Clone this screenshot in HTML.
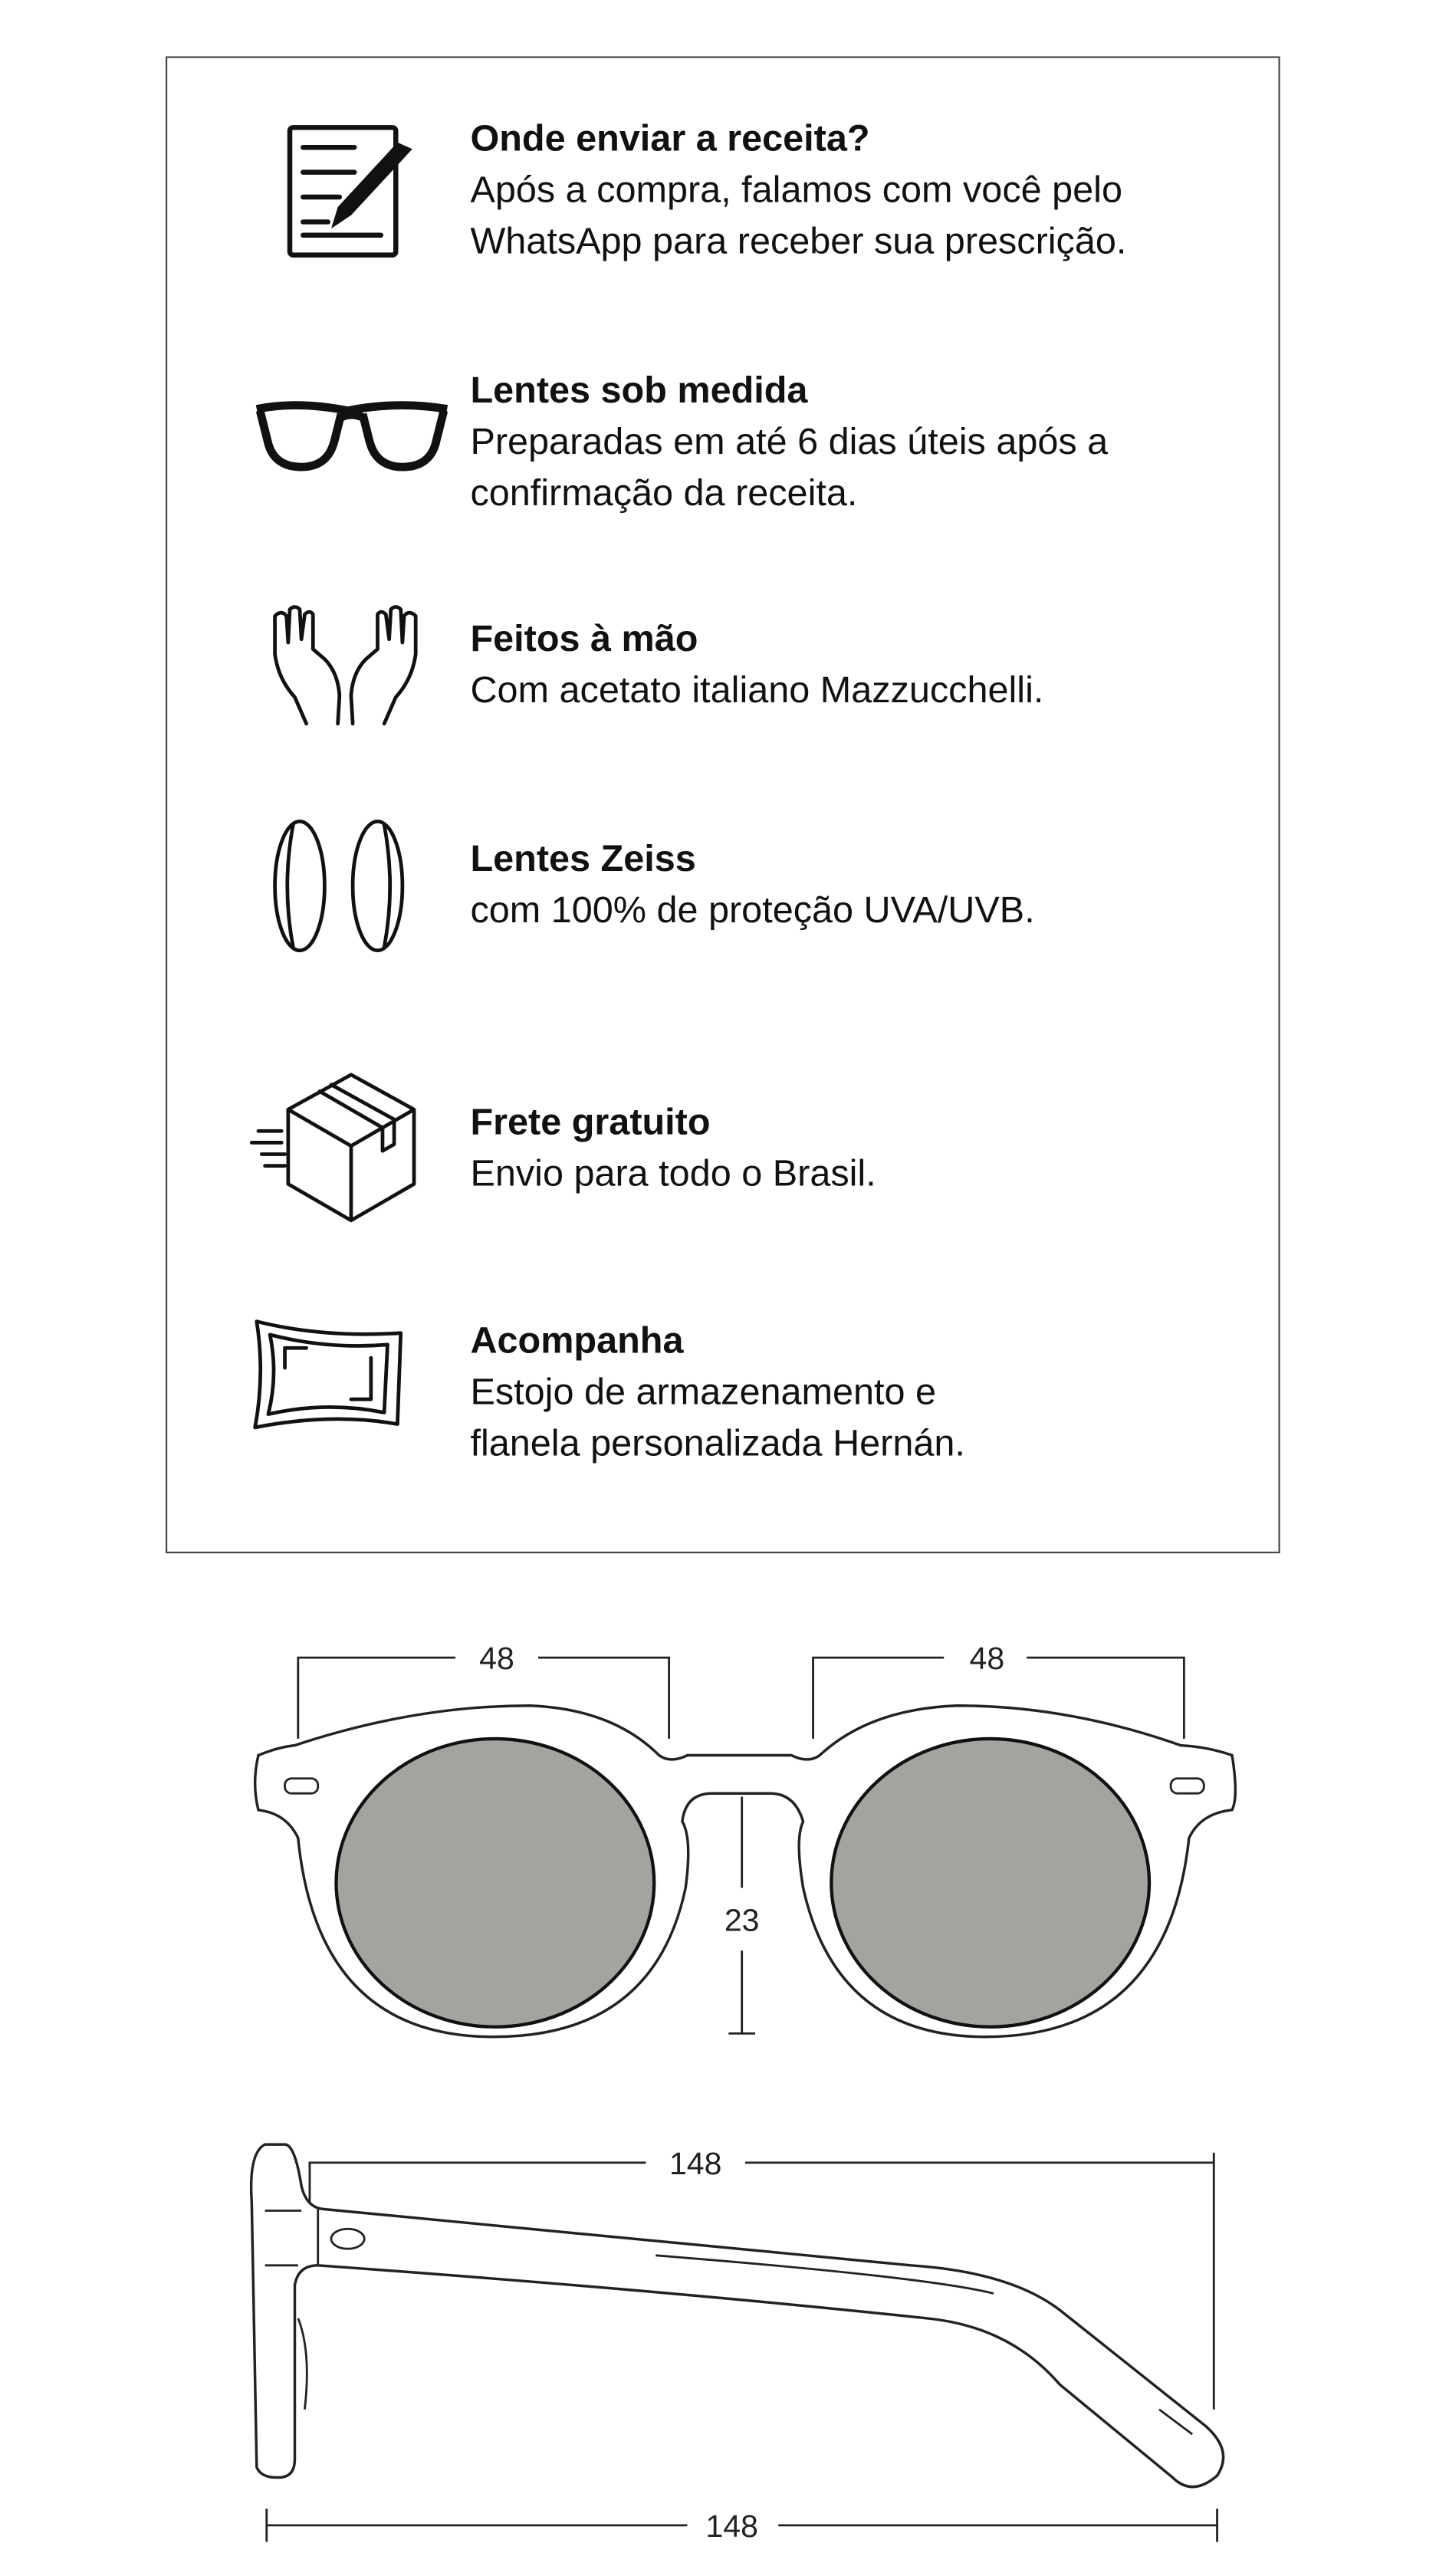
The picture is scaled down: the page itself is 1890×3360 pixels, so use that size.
<!DOCTYPE html>
<html><head><meta charset="utf-8"><style>
html,body{margin:0;padding:0;background:#fff}
svg{display:block}
.t{font-family:"Liberation Sans",sans-serif;font-weight:bold;font-size:22.5px;fill:#111}
.b{font-family:"Liberation Sans",sans-serif;font-size:22.5px;fill:#111}
.d{font-family:"Liberation Sans",sans-serif;font-size:19px;fill:#222}
</style></head><body>
<svg width="1890" height="3360" viewBox="0 0 875 1555.6" xmlns="http://www.w3.org/2000/svg">
<rect x="100.5" y="34.5" width="672" height="903" fill="none" stroke="#444" stroke-width="1"/>
<text class="t" x="284" y="91">Onde enviar a receita?</text>
<text class="b" x="284" y="122">Após a compra, falamos com você pelo</text>
<text class="b" x="284" y="153">WhatsApp para receber sua prescrição.</text>
<text class="t" x="284" y="243">Lentes sob medida</text>
<text class="b" x="284" y="274">Preparadas em até 6 dias úteis após a</text>
<text class="b" x="284" y="305">confirmação da receita.</text>
<text class="t" x="284" y="393">Feitos à mão</text>
<text class="b" x="284" y="424">Com acetato italiano Mazzucchelli.</text>
<text class="t" x="284" y="526">Lentes Zeiss</text>
<text class="b" x="284" y="557">com 100% de proteção UVA/UVB.</text>
<text class="t" x="284" y="685">Frete gratuito</text>
<text class="b" x="284" y="716">Envio para todo o Brasil.</text>
<text class="t" x="284" y="817">Acompanha</text>
<text class="b" x="284" y="848">Estojo de armazenamento e</text>
<text class="b" x="284" y="879">flanela personalizada Hernán.</text>
<g fill="none" stroke="#111" stroke-width="3" stroke-linecap="round">
<rect x="175" y="77" width="64" height="77" rx="2"/>
<line x1="183" y1="89" x2="214" y2="89"/><line x1="183" y1="104" x2="214" y2="104"/>
<line x1="183" y1="119" x2="205" y2="119"/><line x1="183" y1="134" x2="198" y2="134"/>
<line x1="183" y1="142" x2="230" y2="142"/>
</g>
<path d="M240 86 L249 90 L212 130 L200 138 L204 125 Z" fill="#111"/>
<g fill="none" stroke="#111" stroke-width="5" stroke-linejoin="round">
<path d="M155 247 Q180 242 210 248 Q240 242 270 247"/>
<path d="M157 248 L162 268 Q166 282 182 282 Q198 282 202 266 L206 250"/>
<path d="M268 248 L263 268 Q259 282 243 282 Q227 282 223 266 L219 250"/>
<path d="M206 252 Q212 249 219 252"/>
</g>
<g fill="none" stroke="#111" stroke-width="2.2" stroke-linecap="round" stroke-linejoin="round">
<path d="M185 437 L178 421 Q168 410 166 395 L166 372 Q170 368 173 372 L174 388 M174 388 L175 368 Q178 365 181 368 L182 386 M182 386 L184 371 Q187 368 189 371 L189 392 L196 398 Q204 406 205 420 L204 437"/>
<path d="M232 437 L239 421 Q249 410 251 395 L251 372 Q247 368 244 372 L243 388 M243 388 L242 368 Q239 365 236 368 L235 386 M235 386 L233 371 Q230 368 228 371 L228 392 L221 398 Q213 406 212 420 L213 437"/>
<ellipse cx="181" cy="535" rx="15" ry="39"/><path d="M177 498 Q170 535 177 572"/>
<ellipse cx="228" cy="535" rx="15" ry="39"/><path d="M232 498 Q239 535 232 572"/>
<path d="M174 670 L212 649 L250 670 L250 715 L212 737 L174 715 Z M174 670 L212 692 L250 670 M212 692 L212 737 M193 659 L231 681 L231 695 L238 691 L238 676 L200 655"/>
<line x1="152" y1="690" x2="170" y2="690"/><line x1="158" y1="697" x2="172" y2="697"/><line x1="160" y1="704" x2="172" y2="704"/><line x1="156" y1="683" x2="170" y2="683"/>
<path d="M155 798 Q195 808 242 805 L240 860 Q200 853 154 862 Q160 830 155 798 Z"/>
<path d="M163 806 Q198 815 234 812 L232 853 Q197 846 162 854 Q168 830 163 806 Z"/>
<path d="M172 814 L185 814 M172 814 L172 826 M224 820 L224 845 L212 845"/>
</g>
<g fill="none" stroke="#222" stroke-width="1.3">
<path d="M180 1050 L180 1001 L275 1001 M325 1001 L404 1001 L404 1050"/>
<path d="M491 1050 L491 1001 L570 1001 M620 1001 L715 1001 L715 1050"/>
<path d="M448 1085 L448 1140 M448 1178 L448 1228 M440 1228 L456 1228"/>
<path stroke-width="1.6" d="M156 1060 Q168 1055 178 1054 Q250 1030 320 1030 Q370 1032 398 1060 Q405 1065 415 1060 L478 1060 Q488 1065 495 1060 Q525 1032 578 1030 Q645 1030 713 1054 Q730 1055 744 1060 Q748 1085 744 1093 Q725 1095 718 1110 Q705 1230 595 1230 Q505 1230 485 1140 Q480 1110 485 1100 Q480 1083 465 1083 L430 1083 Q414 1083 412 1100 Q418 1110 414 1140 Q395 1230 298 1230 Q192 1230 180 1110 Q173 1095 156 1093 Q152 1077 156 1060 Z"/>
<rect x="172" y="1074" width="20" height="9" rx="4"/><rect x="707" y="1074" width="20" height="9" rx="4"/>
</g>
<ellipse cx="299" cy="1137" rx="96" ry="87" fill="#a5a39f" stroke="#111" stroke-width="2"/>
<ellipse cx="598" cy="1137" rx="96" ry="87" fill="#a5a39f" stroke="#111" stroke-width="2"/>
<text class="d" x="300" y="1008" text-anchor="middle">48</text>
<text class="d" x="596" y="1008" text-anchor="middle">48</text>
<text class="d" x="448" y="1166" text-anchor="middle">23</text>
<g fill="none" stroke="#222" stroke-width="1.3">
<path d="M187 1330 L187 1306 L390 1306 M450 1306 L733 1306 M733 1300 L733 1455"/>
<path d="M161 1515 L161 1535 M161 1525 L415 1525 M470 1525 L735 1525 M735 1515 L735 1535"/>
<path stroke-width="1.6" d="M160 1295 Q150 1300 152 1330 L155 1490 Q158 1497 170 1496 Q178 1495 178 1485 L178 1380 Q180 1368 192 1368 Q400 1383 560 1400 Q610 1405 640 1440 L708 1496 Q720 1508 735 1495 Q745 1480 728 1465 L640 1395 Q610 1372 550 1368 L195 1334 Q185 1333 182 1320 Q178 1295 172 1295 Z"/>
<path d="M192 1334 L192 1368 M160 1335 L182 1335 M160 1368 L180 1368 M396 1362 Q560 1375 600 1385 M700 1455 L720 1470"/>
<ellipse cx="210" cy="1352" rx="10" ry="6"/>
<path d="M180 1400 Q188 1420 184 1455"/>
</g>
<text class="d" x="420" y="1313" text-anchor="middle">148</text>
<text class="d" x="442" y="1532" text-anchor="middle">148</text>
</svg>
</body></html>
